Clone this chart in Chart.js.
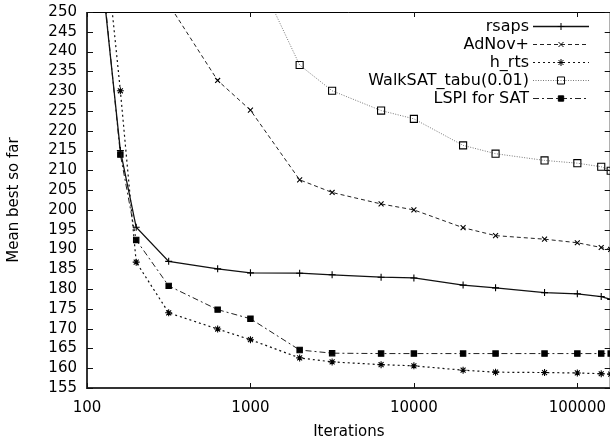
<!DOCTYPE html>
<html>
<head>
<meta charset="utf-8">
<script src="https://cdn.jsdelivr.net/npm/chart.js@4.4.1/dist/chart.umd.min.js"></script>
<style>
  html, body { margin: 0; padding: 0; background: #fff; overflow: hidden; }
  #wrap { width: 610px; height: 445px; overflow: hidden; }
</style>
</head>
<body>
<div id="wrap"><canvas id="chart" width="620" height="445"></canvas></div>
<script>
// data (points above 250 are off the top of the plot)
const iterations = [100, 160, 200, 316, 630, 1000, 2000, 3160, 6300, 10000, 20000, 31600, 63000, 100000, 140000, 160000];
const rsaps   = [295, 215, 195.6, 187, 185.1, 184.1, 184.0, 183.6, 183.0, 182.8, 181.0, 180.3, 179.1, 178.8, 178.1, 177.4];
const adnov   = [380, 330, 300, 252, 232.7, 225.2, 207.6, 204.4, 201.5, 200.0, 195.5, 193.5, 192.6, 191.7, 190.5, 190.0];
const hrts    = [312, 230.1, 186.8, 174.0, 169.9, 167.2, 162.6, 161.6, 160.9, 160.6, 159.5, 159.0, 158.9, 158.8, 158.6, 158.5];
const walksat = [420, 390, 370, 330, 290, 263, 236.6, 230.1, 225.1, 223.0, 216.3, 214.2, 212.5, 211.8, 210.9, 209.9];
const lspi    = [298, 214, 192.4, 180.8, 174.8, 172.5, 164.6, 163.8, 163.7, 163.7, 163.7, 163.7, 163.7, 163.7, 163.7, 163.7];
const xTicks = [100, 1000, 10000, 100000];

const FONT = "'DejaVu Sans', 'Liberation Sans', Arial, sans-serif";

const pts = (ys) => iterations.map((x, i) => ({ x: x, y: ys[i] }));

const series = [
  { label: 'rsaps', data: pts(rsaps), dash: [], color: '#111', width: 1.3,
    style: 'cross', radius: 3.5, fill: '#000' },
  { label: 'AdNov+', data: pts(adnov), dash: [4, 3], color: '#222', width: 1,
    style: 'crossRot', radius: 3.5, fill: '#000' },
  { label: 'h_rts', data: pts(hrts), dash: [2, 3], color: '#111', width: 1.2,
    style: 'star', radius: 3.5, fill: '#000' },
  { label: 'WalkSAT_tabu(0.01)', data: pts(walksat), dash: [1, 1.5], color: '#777', width: 1,
    style: 'rect', radius: 5, fill: 'rgba(0,0,0,0)' },
  { label: 'LSPI for SAT', data: pts(lspi), dash: [6, 3, 2, 3], color: '#222', width: 1,
    style: 'rect', radius: 3.8, fill: '#000' },
];

// frame, inward ticks and the gnuplot style key
const framePlugin = {
  id: 'frame',
  afterDatasetsDraw(chart) {
    const { ctx, chartArea: a, scales } = chart;
    const xs = scales.x, ys = scales.y;
    ctx.save();
    ctx.strokeStyle = '#000';
    ctx.lineWidth = 1;
    ctx.beginPath();
    ctx.moveTo(a.left, a.top + 0.5);
    ctx.lineTo(a.right, a.top + 0.5);
    ctx.moveTo(a.right - 0.5, a.top);
    ctx.lineTo(a.right - 0.5, a.bottom);
    ctx.stroke();
    ctx.strokeStyle = '#333';
    ctx.lineWidth = 2;
    ctx.beginPath();
    ctx.moveTo(a.left, a.top);
    ctx.lineTo(a.left, a.bottom);
    ctx.lineTo(a.right, a.bottom);
    ctx.stroke();

    ctx.lineWidth = 1;
    ctx.strokeStyle = '#111';
    ctx.beginPath();
    ys.ticks.forEach(t => {
      const y = Math.round(ys.getPixelForValue(t.value)) + 0.5;
      ctx.moveTo(a.left, y); ctx.lineTo(a.left + 6, y);
      ctx.moveTo(a.right - 6, y); ctx.lineTo(a.right, y);
    });
    xs.ticks.forEach(t => {
      const x = Math.round(xs.getPixelForValue(t.value)) + 0.5;
      ctx.moveTo(x, a.bottom); ctx.lineTo(x, a.bottom - 5);
      ctx.moveTo(x, a.top); ctx.lineTo(x, a.top + 5);
    });
    ctx.stroke();

    // key
    const textRight = 529, x0 = 533, x1 = 589, y0 = 25.5, dy = 18.2;
    ctx.font = '16px ' + FONT;
    ctx.textAlign = 'right';
    ctx.textBaseline = 'middle';
    chart.data.datasets.forEach((ds, i) => {
      const y = y0 + i * dy;
      ctx.fillStyle = '#000';
      ctx.fillText(ds.label, textRight, y + 1);
      ctx.save();
      ctx.strokeStyle = ds.borderColor;
      ctx.lineWidth = ds.borderWidth;
      ctx.setLineDash(ds.borderDash);
      ctx.beginPath();
      ctx.moveTo(x0, Math.round(y) + 0.5);
      ctx.lineTo(x1, Math.round(y) + 0.5);
      ctx.stroke();
      ctx.restore();
      ctx.save();
      ctx.strokeStyle = '#000';
      ctx.fillStyle = ds.pointBackgroundColor;
      Chart.helpers.drawPoint(ctx, {
        pointStyle: ds.pointStyle, radius: ds.pointRadius,
        borderWidth: ds.pointBorderWidth, rotation: 0
      }, (x0 + x1) / 2, Math.round(y) + 0.5);
      ctx.restore();
    });
    ctx.restore();
  }
};

new Chart(document.getElementById('chart'), {
  type: 'line',
  data: {
    datasets: series.map(s => ({
      label: s.label,
      data: s.data,
      borderColor: s.color,
      borderWidth: s.width,
      borderDash: s.dash,
      tension: 0,
      fill: false,
      pointStyle: s.style,
      pointRadius: s.radius,
      pointBorderColor: '#000',
      pointBorderWidth: 1.1,
      pointBackgroundColor: s.fill,
      clip: { left: 0, top: 0, right: 10, bottom: 0 },
    }))
  },
  options: {
    responsive: false,
    animation: false,
    devicePixelRatio: 1,
    layout: { padding: { left: 0, top: 12, right: 9.3, bottom: 0 } },
    plugins: { legend: { display: false }, tooltip: { enabled: false } },
    scales: {
      x: {
        type: 'logarithmic',
        min: 100,
        max: 160000,
        afterBuildTicks: (scale) => { scale.ticks = xTicks.map(v => ({ value: v })); },
        afterFit: (scale) => {
          scale.height = 57;
          scale.paddingLeft = 0; scale.paddingRight = 0;
        },
        grid: { display: false, drawTicks: false },
        border: { display: false },
        ticks: {
          color: '#000', padding: 11, maxRotation: 0, autoSkip: false,
          font: { family: FONT, size: 15 },
          callback: (v) => String(v)
        },
        title: {
          display: true, text: 'Iterations', color: '#000',
          font: { family: FONT, size: 15 }, padding: { top: 0, bottom: 4 }
        }
      },
      y: {
        min: 155,
        max: 250,
        afterFit: (scale) => {
          scale.width = 87;
          scale.paddingTop = 0; scale.paddingBottom = 0;
        },
        grid: { display: false, drawTicks: false },
        border: { display: false },
        ticks: {
          stepSize: 5, color: '#000', padding: 10, autoSkip: false,
          font: { family: FONT, size: 15 }
        },
        title: {
          display: true, text: 'Mean best so far', color: '#000',
          font: { family: FONT, size: 15 }, padding: { top: 5, bottom: 0 }
        }
      }
    }
  },
  plugins: [framePlugin]
});
</script>
</body>
</html>
